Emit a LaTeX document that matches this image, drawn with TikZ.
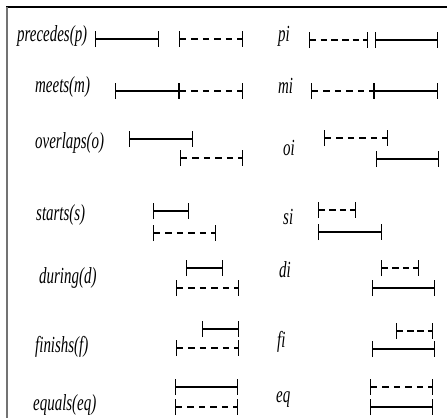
\documentclass[tikz,border=0pt]{standalone}
\usepackage{fontspec}
\setmainfont{Liberation Serif}
\usetikzlibrary{arrows.meta}
\begin{document}
\begin{tikzpicture}[x=1pt,y=-1pt,
  lbl/.style={anchor=mid west, inner sep=0pt, font=\fontsize{23}{23}\selectfont\itshape},
  ivl/.style={line width=1.4pt, {Bar[width=16pt,line width=1.2pt]}-{Bar[width=16pt,line width=1.2pt]}},
  dashivl/.style={ivl, line width=1.3pt, dash pattern=on 6.5pt off #1},
  dashivl/.default=5pt,
  frametop/.style={line width=2pt, black},
  frameleft/.style={line width=2pt, black!55}]
\useasboundingbox (0,0) rectangle (447,418);
% frame
\draw[frametop] (6,7) -- (447,7);
\draw[frameleft] (7,7) -- (7,418);
% labels left
\newcommand\lab[1]{\scalebox{0.65}[1]{#1}}
\node[lbl] (lp)  at (17,39)  {\lab{precedes(p)}};
\node[lbl] (lm)  at (35,90)  {\lab{meets(m)}};
\node[lbl] (lo)  at (35,146) {\lab{overlaps(o)}};
\node[lbl] (ls)  at (36,218) {\lab{starts(s)}};
\node[lbl] (ld)  at (39,281) {\lab{during(d)}};
\node[lbl] (lf)  at (35,350) {\lab{finishs(f)}};
\node[lbl] (leq) at (33,408) {\lab{equals(eq)}};
% labels right
\node[lbl] (rpi) at (278,39)  {\lab{pi}};
\node[lbl] (rmi) at (278,91)  {\lab{mi}};
\node[lbl] (roi) at (283,153) {\lab{oi}};
\node[lbl] (rsi) at (283,222) {\lab{si}};
\node[lbl] (rdi) at (279,275) {\lab{di}};
\node[lbl] (rfi) at (277,345) {\lab{fi}};
\node[lbl] (req) at (276,400) {\lab{eq}};
% left intervals
\draw[ivl] (95,39) -- (159,39);
\draw[dashivl] (179,39) -- (243,39);
\draw[ivl] (115,91) -- (179,91);
\draw[dashivl] (179,91) -- (243,91);
\draw[ivl] (129,139) -- (193,139);
\draw[dashivl] (180,158) -- (243,158);
\draw[ivl] (153,211) -- (189,211);
\draw[dashivl] (153,233) -- (216,233);
\draw[ivl] (186,268) -- (223,268);
\draw[dashivl] (176,288) -- (239,288);
\draw[ivl] (202,329) -- (239,329);
\draw[dashivl] (176,348) -- (239,348);
\draw[ivl] (175,387) -- (238,387);
\draw[dashivl] (175,407) -- (238,407);
% right intervals
\draw[dashivl=4.2pt] (309,40) -- (368,40);
\draw[ivl] (375,40) -- (438,40);
\draw[dashivl] (311,91) -- (374,91);
\draw[ivl] (374,91) -- (438,91);
\draw[dashivl] (324,138) -- (388,138);
\draw[ivl] (376,159) -- (439,159);
\draw[dashivl=4pt] (318,210) -- (356,210);
\draw[ivl] (318,232) -- (382,232);
\draw[dashivl=4pt] (381,268) -- (419,268);
\draw[ivl] (372,288) -- (435,288);
\draw[dashivl=3.7pt] (396,331) -- (433,331);
\draw[ivl] (372,349) -- (435,349);
\draw[dashivl] (370,387) -- (433,387);
\draw[ivl] (370,407) -- (433,407);
\end{tikzpicture}
\end{document}
